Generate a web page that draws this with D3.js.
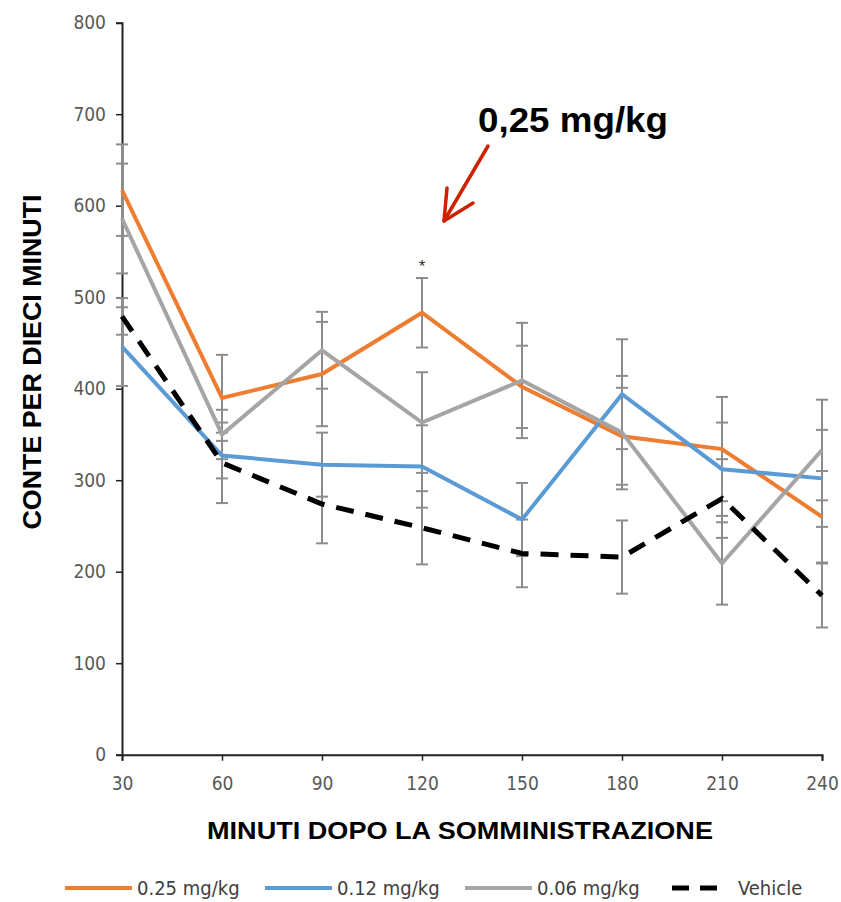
<!DOCTYPE html>
<meta charset="utf-8">
<script src="https://d3js.org/d3.v7.min.js"></script>
<style>
  body { margin: 0; background: #fff; }
  text { font-family: "Liberation Sans", Arial, sans-serif; }
</style>
<svg id="chart" width="841" height="902"></svg>
<script>
// data
var minutes = [30, 60, 90, 120, 150, 180, 210, 240];
var yTicks = [0, 100, 200, 300, 400, 500, 600, 700, 800];

var dose025 = [617, 390, 416, 483, 402, 348, 334, 260];
var dose012 = [446, 327, 317, 315, 257, 394, 312, 302];
var dose006 = [586, 350, 442, 363, 409, 352, 209, 333];
var vehicle = [479, 319, 274, 248, 220, 216, 280, 174];

var err025 = [50, 47, 57, 38, 45, 53, 57, 50];
var err012 = [43, 25, 35, 45, 40, 60, 51, 53];
var err006 = [60, 27, 42, 55, 63, 62, 45, 55];
var errVeh = [20, 44, 43, 40, 37, 40, 43, 35];

var seriesNames = ["0.25 mg/kg", "0.12 mg/kg", "0.06 mg/kg", "Vehicle"];

var svg = d3.select("#chart");
var narrow = "'Liberation Sans Narrow', 'DejaVu Sans Condensed', sans-serif";

var x = d3.scaleLinear().domain([30, 240]).range([122, 822]);
var y = d3.scaleLinear().domain([0, 800]).range([754.7, 22.7]);

var series = [
  {name: seriesNames[0], values: dose025, err: err025, color: "#ED7D31", dash: null},
  {name: seriesNames[1], values: dose012, err: err012, color: "#5B9BD5", dash: null},
  {name: seriesNames[2], values: dose006, err: err006, color: "#A5A5A5", dash: null},
  {name: seriesNames[3], values: vehicle, err: errVeh, color: "#000000", dash: "18,12"}
];

// axes
var yAxis = svg.append("g")
    .attr("transform", "translate(" + x(30) + ",0)")
    .call(d3.axisLeft(y).tickValues(yTicks).tickSize(6).tickPadding(10));
var xAxis = svg.append("g")
    .attr("transform", "translate(0," + y(0) + ")")
    .call(d3.axisBottom(x).tickValues(minutes).tickSize(6).tickPadding(16));

[yAxis, xAxis].forEach(function(a) {
  a.select(".domain").attr("stroke", "#222").attr("stroke-width", 2);
  a.selectAll(".tick line").attr("stroke", "#222").attr("stroke-width", 1.5);
  a.selectAll(".tick text")
    .attr("fill", "#595959")
    .style("font-family", narrow)
    .style("font-size", "19px");
});

// error bars
var capW = 6;
var ebar = svg.append("g").attr("stroke", "#8c8c8c").attr("stroke-width", 2);
series.forEach(function(s) {
  s.values.forEach(function(v, i) {
    var cx = x(minutes[i]);
    var lo = y(v - s.err[i]), hi = y(v + s.err[i]);
    ebar.append("line").attr("x1", cx).attr("x2", cx).attr("y1", lo).attr("y2", hi);
    ebar.append("line").attr("x1", cx - capW).attr("x2", cx + capW).attr("y1", lo).attr("y2", lo);
    ebar.append("line").attr("x1", cx - capW).attr("x2", cx + capW).attr("y1", hi).attr("y2", hi);
  });
});

// lines
var line = d3.line()
    .x(function(d, i) { return x(minutes[i]); })
    .y(function(d) { return y(d); });

series.forEach(function(s) {
  svg.append("path")
      .datum(s.values)
      .attr("d", line)
      .attr("fill", "none")
      .attr("stroke", s.color)
      .attr("stroke-width", s.dash ? 5 : 4)
      .attr("stroke-dasharray", s.dash);
});

// significance mark
svg.append("text")
    .attr("x", x(120))
    .attr("y", y(dose025[3] + err025[3]) - 6)
    .attr("text-anchor", "middle")
    .attr("fill", "#333")
    .style("font-size", "17px")
    .text("*");

// axis titles
svg.append("text")
    .attr("transform", "translate(41,362) rotate(-90)")
    .attr("text-anchor", "middle")
    .style("font-size", "25px")
    .style("font-weight", "bold")
    .attr("textLength", 335)
    .attr("lengthAdjust", "spacingAndGlyphs")
    .text("CONTE PER DIECI MINUTI");

svg.append("text")
    .attr("x", 460)
    .attr("y", 839)
    .attr("text-anchor", "middle")
    .style("font-size", "24px")
    .style("font-weight", "bold")
    .attr("textLength", 506)
    .attr("lengthAdjust", "spacingAndGlyphs")
    .text("MINUTI  DOPO LA SOMMINISTRAZIONE");

// annotation
svg.append("text")
    .attr("x", 478)
    .attr("y", 132)
    .style("font-size", "35px")
    .style("font-weight", "bold")
    .attr("textLength", 190)
    .attr("lengthAdjust", "spacingAndGlyphs")
    .text("0,25 mg/kg");

var red = "#CC2200";
svg.append("path")
    .attr("d", d3.line()([[488, 146], [444, 221]]))
    .attr("stroke", red).attr("stroke-width", 3.5).attr("fill", "none")
    .attr("stroke-linecap", "round");
svg.append("path")
    .attr("d", d3.line()([[447, 188], [444, 221], [473, 203]]))
    .attr("stroke", red).attr("stroke-width", 3.5).attr("fill", "none")
    .attr("stroke-linecap", "round").attr("stroke-linejoin", "round");

// legend
var legendX = [65, 265, 465, 670];
var legend = svg.append("g");
series.forEach(function(s, i) {
  var g = legend.append("g").attr("transform", "translate(" + legendX[i] + ",888)");
  if (s.dash) {
    g.append("line").attr("x1", 2).attr("x2", 19).attr("stroke", s.color).attr("stroke-width", 5);
    g.append("line").attr("x1", 30).attr("x2", 47).attr("stroke", s.color).attr("stroke-width", 5);
  } else {
    g.append("line").attr("x1", 0).attr("x2", 67).attr("stroke", s.color).attr("stroke-width", 4);
  }
  g.append("text")
      .attr("x", s.dash ? 68 : 72)
      .attr("y", 7)
      .attr("fill", "#404040")
      .style("font-family", narrow)
      .style("font-size", "20px")
      .text(s.name);
});
</script>
